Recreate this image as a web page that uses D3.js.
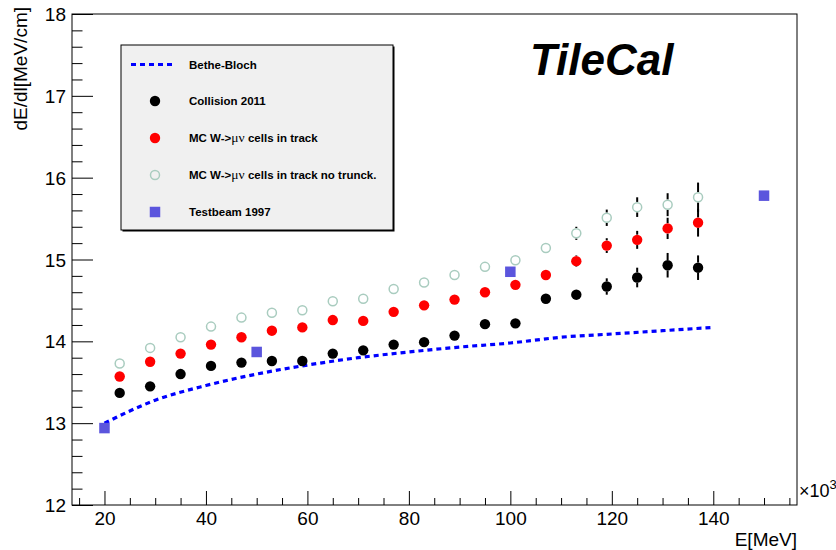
<!DOCTYPE html>
<html>
<head>
<meta charset="utf-8">
<script src="https://cdn.jsdelivr.net/npm/d3@7"></script>
<style>
  html, body { margin: 0; padding: 0; background: #fff; }
  svg { display: block; font-family: "Liberation Sans", Arial, Helvetica, sans-serif; }
</style>
</head>
<body>
<svg id="chart" width="836" height="550"></svg>
<script>
// Muon energy (x10^3 MeV) at which the measured points sit
const energy = [23, 29, 35, 41, 47, 53, 59, 65, 71, 77, 83, 89, 95, 101, 107, 113, 119, 125, 131, 137];

// dE/dl [MeV/cm], collision data 2011
const collision = [13.37, 13.45, 13.60, 13.70, 13.74, 13.76, 13.76, 13.85, 13.89, 13.96, 13.99, 14.07, 14.21, 14.22, 14.52, 14.57, 14.67, 14.78, 14.93, 14.90];
const collisionErr = [0.02, 0.02, 0.02, 0.02, 0.02, 0.02, 0.02, 0.02, 0.02, 0.03, 0.03, 0.03, 0.03, 0.03, 0.04, 0.06, 0.10, 0.12, 0.15, 0.15];

// MC W->mu nu, cells in track (truncated)
const mcTrack = [13.57, 13.75, 13.85, 13.96, 14.05, 14.13, 14.17, 14.26, 14.25, 14.36, 14.44, 14.51, 14.60, 14.69, 14.81, 14.98, 15.17, 15.24, 15.38, 15.45];
const mcTrackErr = [0.02, 0.02, 0.02, 0.02, 0.02, 0.02, 0.02, 0.02, 0.02, 0.03, 0.03, 0.03, 0.03, 0.03, 0.04, 0.07, 0.09, 0.11, 0.13, 0.17];

// MC W->mu nu, cells in track, no truncation
const mcNoTrunc = [13.73, 13.92, 14.05, 14.18, 14.29, 14.35, 14.38, 14.49, 14.52, 14.64, 14.72, 14.81, 14.91, 14.99, 15.14, 15.32, 15.51, 15.64, 15.67, 15.76];
const mcNoTruncErr = [0.02, 0.02, 0.02, 0.02, 0.02, 0.02, 0.02, 0.02, 0.02, 0.03, 0.03, 0.03, 0.03, 0.04, 0.05, 0.08, 0.10, 0.12, 0.14, 0.18];

// Testbeam 1997
const tbEnergy = [20, 50, 100, 150];
const tbValue = [12.94, 13.87, 14.85, 15.78];

// Bethe-Bloch prediction
const bbEnergy = [20, 30, 40, 50, 60, 70, 80, 90, 100, 110, 120, 130, 140];
const bbValue = [13.00, 13.28, 13.46, 13.60, 13.71, 13.80, 13.87, 13.93, 13.98, 14.05, 14.09, 14.13, 14.17];

// Axis ticks
const xMajor = [20, 40, 60, 80, 100, 120, 140];
const xMinor = [15, 25, 30, 35, 45, 50, 55, 65, 70, 75, 85, 90, 95, 105, 110, 115, 125, 130, 135, 145, 150, 155];
const yMajor = [12, 13, 14, 15, 16, 17, 18];
const yMinor = [12.2, 12.4, 12.6, 12.8, 13.2, 13.4, 13.6, 13.8, 14.2, 14.4, 14.6, 14.8,
                15.2, 15.4, 15.6, 15.8, 16.2, 16.4, 16.6, 16.8, 17.2, 17.4, 17.6, 17.8];

const svg = d3.select("#chart");
const frame = { left: 72, top: 14, right: 797, bottom: 505 };

const x = d3.scaleLinear().domain([13.6, 156.5]).range([frame.left, frame.right]);
const y = d3.scaleLinear().domain([12, 18]).range([frame.bottom, frame.top]);

const openColor = "#a9ccbf";
const squareColor = "#5b55dd";
const R = 5.2;

// ---- axes (ticks point into the frame) ----
const gx = svg.append("g").attr("transform", `translate(0,${frame.bottom})`);
gx.call(d3.axisBottom(x).tickValues(xMajor).tickSize(-14).tickPadding(7).tickFormat(d3.format("d")));
const gxm = svg.append("g").attr("transform", `translate(0,${frame.bottom})`);
gxm.call(d3.axisBottom(x).tickValues(xMinor).tickSize(-7).tickFormat(""));

const gy = svg.append("g").attr("transform", `translate(${frame.left},0)`);
gy.call(d3.axisLeft(y).tickValues(yMajor).tickSize(-21).tickPadding(6).tickFormat(d3.format("d")));
const gym = svg.append("g").attr("transform", `translate(${frame.left},0)`);
gym.call(d3.axisLeft(y).tickValues(yMinor).tickSize(-10.5).tickFormat(""));

[gx, gxm, gy, gym].forEach(g => {
  g.select(".domain").remove();
  g.selectAll(".tick line").attr("stroke", "#000").attr("stroke-width", 1);
  g.selectAll(".tick text").attr("fill", "#000").style("font-size", "19px")
    .style("font-family", "'Liberation Sans', Arial, sans-serif");
});
gy.selectAll(".tick text").attr("dy", "0.35em");

// frame
svg.append("rect")
  .attr("x", frame.left).attr("y", frame.top)
  .attr("width", frame.right - frame.left).attr("height", frame.bottom - frame.top)
  .attr("fill", "none").attr("stroke", "#000").attr("stroke-width", 1);

// axis titles
svg.append("text")
  .attr("x", frame.right).attr("y", 546)
  .attr("text-anchor", "end").style("font-size", "19px")
  .text("E[MeV]");

const expo = svg.append("text")
  .attr("x", 799).attr("y", 497).style("font-size", "18px");
expo.append("tspan").text("×10");
expo.append("tspan").attr("dy", -8).style("font-size", "13px").text("3");

svg.append("text")
  .attr("transform", "translate(27,7) rotate(-90)")
  .attr("text-anchor", "end").style("font-size", "19px")
  .text("dE/dl[MeV/cm]");

// ---- Bethe-Bloch curve ----
const bb = bbEnergy.map((e, i) => [e, bbValue[i]]);
svg.append("path")
  .datum(bb)
  .attr("fill", "none")
  .attr("stroke", "#0000ff")
  .attr("stroke-width", 3.2)
  .attr("stroke-dasharray", "5,4")
  .attr("d", d3.line().x(d => x(d[0])).y(d => y(d[1])).curve(d3.curveMonotoneX));

// ---- error bars with a gap around the marker ----
function errorBars(values, errs) {
  const g = svg.append("g").attr("stroke", "#000").attr("stroke-width", 2);
  values.forEach((v, i) => {
    const cx = x(energy[i]);
    const cy = y(v);
    const top = y(v + errs[i]);
    const bot = y(v - errs[i]);
    if (cy - top > R) g.append("line").attr("x1", cx).attr("x2", cx).attr("y1", top).attr("y2", cy - R);
    if (bot - cy > R) g.append("line").attr("x1", cx).attr("x2", cx).attr("y1", cy + R).attr("y2", bot);
  });
}
errorBars(mcNoTrunc, mcNoTruncErr);
errorBars(mcTrack, mcTrackErr);
errorBars(collision, collisionErr);

// ---- markers ----
svg.append("g").selectAll("circle").data(mcNoTrunc).join("circle")
  .attr("cx", (d, i) => x(energy[i])).attr("cy", d => y(d)).attr("r", R - 0.7)
  .attr("fill", "none").attr("stroke", openColor).attr("stroke-width", 1.5);

svg.append("g").selectAll("circle").data(mcTrack).join("circle")
  .attr("cx", (d, i) => x(energy[i])).attr("cy", d => y(d)).attr("r", R)
  .attr("fill", "#ff0000");

svg.append("g").selectAll("circle").data(collision).join("circle")
  .attr("cx", (d, i) => x(energy[i])).attr("cy", d => y(d)).attr("r", R)
  .attr("fill", "#000");

const S = 10.5;
svg.append("g").selectAll("rect").data(tbValue).join("rect")
  .attr("x", (d, i) => x(tbEnergy[i]) - S / 2).attr("y", d => y(d) - S / 2)
  .attr("width", S).attr("height", S)
  .attr("fill", squareColor);

// ---- title ----
svg.append("text")
  .attr("x", 530).attr("y", 75)
  .style("font-size", "44px").style("font-weight", "bold").style("font-style", "italic")
  .text("TileCal");

// ---- legend ----
const lg = { x: 121, y: 45, w: 272, h: 185 };
svg.append("rect")
  .attr("x", lg.x + 1.5).attr("y", lg.y + 1.5).attr("width", lg.w).attr("height", lg.h)
  .attr("fill", "#000");
svg.append("rect")
  .attr("x", lg.x).attr("y", lg.y).attr("width", lg.w).attr("height", lg.h)
  .attr("fill", "#f0f0f0").attr("stroke", "#000").attr("stroke-width", 1);

const rows = [64.5, 101, 138, 175, 212];
const markX = 155;
const textX = 189;
const legendFont = { size: "11.5px", weight: "bold" };

svg.append("line")
  .attr("x1", 131).attr("x2", 176).attr("y1", rows[0]).attr("y2", rows[0])
  .attr("stroke", "#0000ff").attr("stroke-width", 3.2).attr("stroke-dasharray", "5,4");
svg.append("circle").attr("cx", markX).attr("cy", rows[1]).attr("r", R).attr("fill", "#000");
svg.append("circle").attr("cx", markX).attr("cy", rows[2]).attr("r", R).attr("fill", "#ff0000");
svg.append("circle").attr("cx", markX).attr("cy", rows[3]).attr("r", R - 0.7)
  .attr("fill", "none").attr("stroke", openColor).attr("stroke-width", 1.5);
svg.append("rect").attr("x", markX - S / 2).attr("y", rows[4] - S / 2).attr("width", S).attr("height", S)
  .attr("fill", squareColor);

function legendText(row, parts) {
  const t = svg.append("text")
    .attr("x", textX).attr("y", rows[row] + 4)
    .style("font-size", legendFont.size).style("font-weight", legendFont.weight);
  parts.forEach(p => {
    const s = t.append("tspan").text(p.t);
    if (p.greek) s.style("font-family", "'Liberation Serif', 'Times New Roman', serif")
      .style("font-weight", "normal").style("font-size", "13.5px");
  });
}
legendText(0, [{ t: "Bethe-Bloch" }]);
legendText(1, [{ t: "Collision 2011" }]);
legendText(2, [{ t: "MC W->" }, { t: "μν ", greek: true }, { t: "cells in track" }]);
legendText(3, [{ t: "MC W->" }, { t: "μν ", greek: true }, { t: "cells in track no trunck." }]);
legendText(4, [{ t: "Testbeam 1997" }]);
</script>
</body>
</html>
